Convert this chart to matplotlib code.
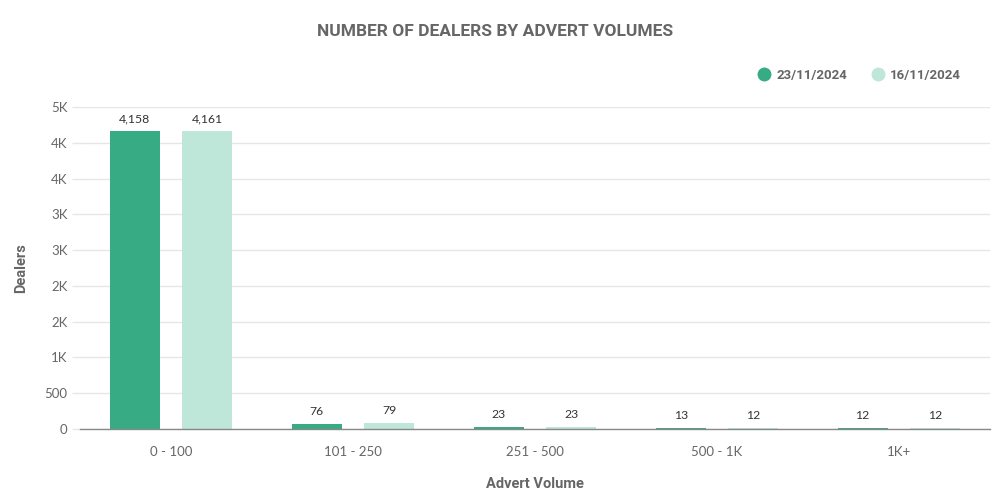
import matplotlib
matplotlib.use("Agg")
import matplotlib.pyplot as plt
from matplotlib.ticker import FuncFormatter, MultipleLocator
from matplotlib.lines import Line2D
import numpy as np

categories = ["0 - 100", "101 - 250", "251 - 500", "500 - 1K", "1K+"]
series_names = ["23/11/2024", "16/11/2024"]
values_2311 = [4158, 76, 23, 13, 12]
values_1611 = [4161, 79, 23, 12, 12]
colors = ["#36ab84", "#bee6d9"]

fig = plt.figure(figsize=(10, 5), dpi=100)
ax = fig.add_axes([0.08, 0.142, 0.91, 0.644])

x = np.arange(len(categories))
w = 0.275
off = 0.2
b1 = ax.bar(x - off, values_2311, width=w, color=colors[0], zorder=3)
b2 = ax.bar(x + off, values_1611, width=w, color=colors[1], zorder=3)

for bars, vals in ((b1, values_2311), (b2, values_1611)):
    for rect, v in zip(bars, vals):
        ax.annotate(f"{v:,}", (rect.get_x() + rect.get_width() / 2, rect.get_height()),
                    xytext=(0, 5), textcoords="offset points", ha="center", va="bottom",
                    fontsize=8.8, color="#333333", family="Lato")

ax.set_xlim(-0.5, 4.5)
ax.set_ylim(0, 4500)
ax.yaxis.set_major_locator(MultipleLocator(500))

def fmt(v, pos):
    if v < 1000:
        return f"{int(v)}"
    return f"{int(v / 1000 + 0.5)}K"

ax.yaxis.set_major_formatter(FuncFormatter(fmt))
ax.set_xticks(x)
ax.set_xticklabels(categories)

ax.grid(axis="y", color="#e6e6e6", linewidth=1, zorder=0)
for s in ["top", "right", "left"]:
    ax.spines[s].set_visible(False)
ax.spines["bottom"].set_color("#888888")
ax.spines["bottom"].set_linewidth(1)
ax.spines["bottom"].set_zorder(4)

ax.tick_params(axis="y", length=6, color="#e6e6e6", width=1, pad=3,
               labelsize=9.5, labelcolor="#666666")
ax.tick_params(axis="x", length=0, pad=12, labelsize=9.5, labelcolor="#666666")
for lab in ax.get_yticklabels() + ax.get_xticklabels():
    lab.set_family("Lato")

ax.set_ylabel("Dealers", fontsize=10.5, fontweight="bold", color="#666666",
              family="Roboto", labelpad=12)
ax.set_xlabel("Advert Volume", fontsize=10.5, fontweight="bold", color="#666666",
              family="Roboto", labelpad=14)

fig.text(0.495, 0.938, "NUMBER OF DEALERS BY ADVERT VOLUMES", ha="center", va="center",
         fontsize=12.5, fontweight="bold", color="#666666", family="Roboto")

handles = [Line2D([0], [0], marker="o", linestyle="", markersize=9,
                  markerfacecolor=c, markeredgecolor=c) for c in colors]
leg = fig.legend(handles, series_names, loc="center right", bbox_to_anchor=(0.973, 0.85),
                 ncol=2, frameon=False, handletextpad=0.15, columnspacing=1.5,
                 handlelength=1.6,
                 prop={"family": "Roboto", "weight": "bold", "size": 9.5})
for t in leg.get_texts():
    t.set_color("#666666")

fig.savefig("out.png", dpi=100)
